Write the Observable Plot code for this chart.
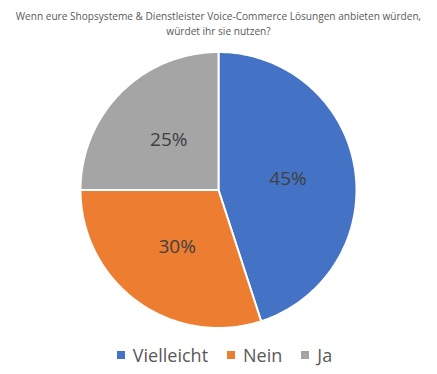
<!DOCTYPE html>
<html>
<head>
<meta charset="utf-8">
<script src="https://cdn.jsdelivr.net/npm/d3@7"></script>
<script src="https://cdn.jsdelivr.net/npm/@observablehq/plot@0.6"></script>
<style>
  html, body { margin: 0; padding: 0; background: #fff; }
  body { width: 437px; height: 374px; position: relative; overflow: hidden; font-family: "Open Sans", "Noto Sans", sans-serif; }
  #title { position: absolute; left: 0; top: 9px; width: 437px; text-align: center; font-size: 10.1px; line-height: 14.5px; color: #595959; }
  #chart { position: absolute; left: 0; top: 44px; }
  #legend { position: absolute; left: 6px; top: 343px; width: 437px; display: flex; justify-content: center; align-items: center; font-size: 18px; color: #595959; }
  .item { display: flex; align-items: center; margin: 0 9.5px; }
  .sw { width: 8px; height: 8px; margin-right: 8px; }
</style>
</head>
<body>
<div id="title">Wenn eure Shopsysteme &amp; Dienstleister Voice-Commerce Lösungen anbieten würden,<br>würdet ihr sie nutzen?</div>
<div id="chart"></div>
<div id="legend"></div>
<script>
const categories = ["Vielleicht", "Nein", "Ja"];
const values = [45, 30, 25];
const labels = ["45%", "30%", "25%"];
const colors = ["#4472C4", "#ED7D31", "#A5A5A5"];

const arcs = d3.pie().sort(null).value(d => d)(values);
const slicePts = [];
const labelPts = [];
arcs.forEach((a, i) => {
  const cat = categories[i];
  slicePts.push({cat, x: 0, y: 0});
  const n = 120;
  for (let k = 0; k <= n; k++) {
    const t = a.startAngle + (a.endAngle - a.startAngle) * k / n;
    slicePts.push({cat, x: Math.sin(t), y: Math.cos(t)});
  }
  const m = (a.startAngle + a.endAngle) / 2;
  labelPts.push({cat, label: labels[i], x: 0.51 * Math.sin(m), y: 0.51 * Math.cos(m)});
});

const W = 437, H = 290;
const chart = Plot.plot({
  width: W,
  height: H,
  marginLeft: 80,
  marginRight: 81,
  marginTop: 7.5,
  marginBottom: 6.5,
  x: {domain: [-1, 1], axis: null},
  y: {domain: [-1, 1], axis: null},
  color: {domain: categories, range: colors},
  style: {fontFamily: "'Open Sans', sans-serif", background: "transparent"},
  marks: [
    Plot.line(slicePts, {x: "x", y: "y", z: "cat", fill: "cat", stroke: "#fff", strokeWidth: 2, curve: "linear-closed"}),
    Plot.text(labelPts, {x: "x", y: "y", text: "label", fill: "#404040", fontSize: 19})
  ]
});
document.getElementById("chart").appendChild(chart);

const legend = document.getElementById("legend");
categories.forEach((c, i) => {
  const it = document.createElement("div");
  it.className = "item";
  const sw = document.createElement("div");
  sw.className = "sw";
  sw.style.background = colors[i];
  const tx = document.createElement("span");
  tx.textContent = c;
  it.appendChild(sw);
  it.appendChild(tx);
  legend.appendChild(it);
});
</script>
</body>
</html>
